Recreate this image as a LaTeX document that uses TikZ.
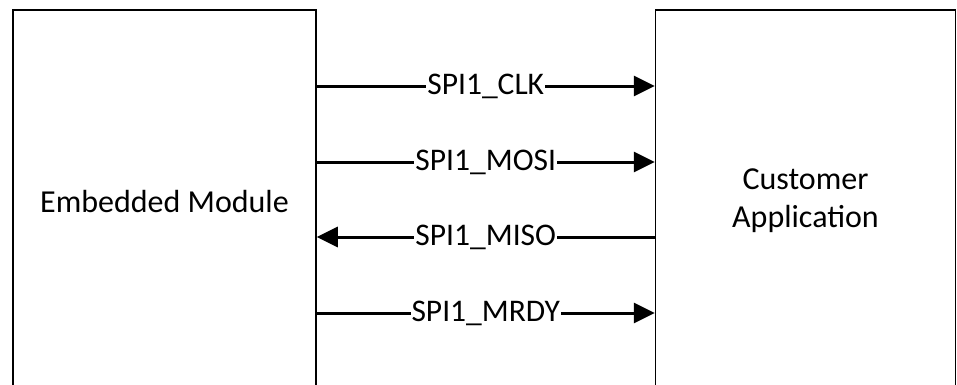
\documentclass[tikz,border=0pt]{standalone}
\usepackage{fontspec}
\setmainfont{Carlito}
\usetikzlibrary{arrows.meta}
\begin{document}
\begin{tikzpicture}[x=1pt,y=-1pt,
  box/.style={draw,line width=1.5pt,rectangle,inner sep=0pt,
    minimum height=382pt,align=center,
    font=\fontsize{32}{38}\selectfont},
  sig/.style={line width=3pt,-{Triangle[length=21pt,width=20pt]}},
  siglabel/.style={fill=white,inner xsep=1pt,inner ysep=2pt,
    font=\fontsize{31.5}{38}\selectfont},
]
\useasboundingbox (0,0) rectangle (957,384);
\node[box,minimum width=303pt] (L) at (164.5,201) {Embedded Module};
\node[box,minimum width=300pt] (R) at (805.5,201) {Customer\\Application};
\coordinate (r1) at (0,86);
\coordinate (r2) at (0,162);
\coordinate (r3) at (0,237);
\coordinate (r4) at (0,313);
\draw[sig] (L.east |- r1) -- node[siglabel] {SPI1\_CLK} (R.west |- r1);
\draw[sig] (L.east |- r2) -- node[siglabel] {SPI1\_MOSI} (R.west |- r2);
\draw[sig] (R.west |- r3) -- node[siglabel] {SPI1\_MISO} (L.east |- r3);
\draw[sig] (L.east |- r4) -- node[siglabel] {SPI1\_MRDY} (R.west |- r4);
\end{tikzpicture}
\end{document}
